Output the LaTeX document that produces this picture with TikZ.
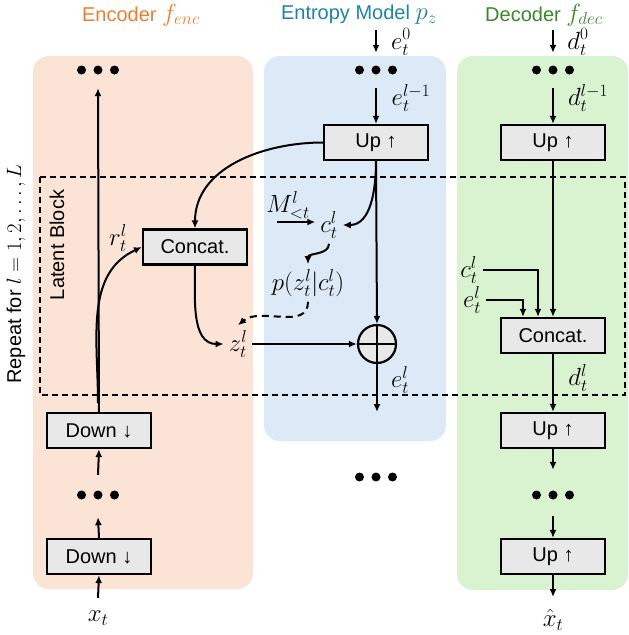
\documentclass[tikz,border=0pt]{standalone}
\usepackage{fontspec}
\setmainfont{Liberation Sans}
\usetikzlibrary{arrows.meta}

\definecolor{encfill}{RGB}{251,227,214}
\definecolor{entfill}{RGB}{220,233,246}
\definecolor{decfill}{RGB}{217,242,208}
\definecolor{enctext}{RGB}{237,125,49}
\definecolor{enttext}{RGB}{30,130,170}
\definecolor{dectext}{RGB}{60,135,40}
\definecolor{boxfill}{RGB}{232,232,232}

% larger maths inside sans text lines
\newcommand{\lgmath}[1]{{\fontsize{24}{26}\selectfont$#1$}}

\begin{document}
\begin{tikzpicture}[x=1pt,y=1pt,
  font=\fontsize{20}{24}\selectfont,
  blk/.style={draw=black, line width=2.2pt, fill=boxfill, minimum width=104pt,
    minimum height=35pt, inner sep=0pt},
  panel/.style={rounded corners=16pt},
  conn/.style={line width=2pt, -{Latex[length=8pt,width=7pt]}},
  mlab/.style={font=\fontsize{24}{28}\selectfont, inner sep=5pt},
  dots/.style={minimum width=42pt, minimum height=10pt, inner sep=0pt,
    path picture={\fill (path picture bounding box.center) circle (4.5pt)
      ++(-16.5pt,0) circle (4.5pt) ++(33pt,0) circle (4.5pt);}},
  plus/.style={circle, draw=black, line width=2.2pt, fill=boxfill, minimum size=38pt,
    inner sep=0pt,
    path picture={\draw[line width=2pt]
      (path picture bounding box.north) -- (path picture bounding box.south)
      (path picture bounding box.west) -- (path picture bounding box.east);}},
  latent/.style={line width=1.5pt, dash pattern=on 6pt off 4pt}]

\useasboundingbox (0,0) rectangle (629,-635);

% column backgrounds
\fill[encfill, panel] (33,-56) rectangle (253,-589);
\fill[entfill, panel] (264,-56) rectangle (446,-441);
\fill[decfill, panel] (457,-56) rectangle (628,-590);

% latent block frame
\draw[latent] (40,-177) rectangle (625,-395);

% titles
\node[enctext] (enct) at (141,-15) {Encoder \lgmath{f_{enc}}};
\node[enttext] (entt) at (359,-15) {Entropy Model \lgmath{p_z}};
\node[dectext] (dect) at (544,-15) {Decoder \lgmath{f_{dec}}};

% side labels
\node[rotate=90] (lb) at (57,-245) {Latent Block};
\node[rotate=90] (rep) at (16,-274) {Repeat for $l = 1,2, \ldots, L$};

% ---------------- encoder ----------------
\node[dots] (etop) at (98,-70) {};
\node[blk] (down1) at (99,-430.5) {Down ↓};
\node[dots] (emid) at (98,-495) {};
\node[blk] (down2) at (99,-556.5) {Down ↓};
\node[mlab] (xt) at (98,-618) {$x_t$};
\coordinate (xtop) at (98,-598);
\coordinate (rsplit) at (98,-403);

\draw[conn] (xtop) -- (down2.south);
\draw[conn] (down2.north) -- ([yshift=-17pt]emid.south);
\draw[conn] ([yshift=15pt]emid.north) -- (down1.south);
\draw[conn] (down1.north) -- ([yshift=-13pt]etop.south);

\node[blk] (cat1) at (195,-247) {Concat.};
\node[mlab] (rlab) at (118,-238) {$r_t^l$};
\draw[conn] (rsplit) to[out=90, in=205] (cat1.west);

% ---------------- entropy model ----------------
\coordinate (e0start) at (376,-30);
\node[mlab] (e0lab) at (401,-42) {$e_t^0$};
\node[dots] (mtop) at (376,-70) {};
\node[mlab] (em1) at (411,-98) {$e_t^{l-1}$};
\node[blk] (up1) at (376,-142.5) {Up ↑};
\node[plus] (sum) at (377,-344) {};
\coordinate (eout) at (377,-412);
\node[mlab] (elab) at (400,-380) {$e_t^l$};
\node[dots] (mbot) at (376,-477) {};

\draw[conn] (e0start) -- ([yshift=12pt]mtop.north);
\draw[conn] ([yshift=-13pt]mtop.south) -- (up1.north);
\draw[conn] (up1.south) -- (sum.north);
\draw[conn] (sum.south) -- (eout);

\node[mlab] (mlabel) at (288,-205) {$M_{<t}^l$};
\coordinate (mstart) at (277,-222);
\node[mlab] (clab) at (329,-225) {$c_t^l$};
\node[mlab] (plab) at (308,-283) {$p(z_t^l|c_t^l)$};
\node[mlab] (zlab) at (238,-344) {$z_t^l$};

\draw[conn] (mstart) -- (mstart -| clab.west);
\draw[conn] (up1.west) to[out=180, in=90] (cat1.north);
\draw[conn] (up1.south) to[out=-90, in=0] (clab.east);
\draw[conn] (clab.south) to[out=-90, in=90] (plab.north);
\draw[conn, dash pattern=on 7pt off 5pt] (plab.south) to[out=-90, in=40] (zlab.north);
\draw[conn] (cat1.south) to[out=-90, in=180] (zlab.west);
\draw[conn] (zlab.east) -- (sum.west);

% ---------------- decoder ----------------
\coordinate (d0start) at (553,-30);
\node[mlab] (d0lab) at (578,-42) {$d_t^0$};
\node[dots] (dtop) at (553,-70) {};
\node[mlab] (dm1) at (588,-98) {$d_t^{l-1}$};
\node[blk] (up2) at (553,-142.5) {Up ↑};
\node[blk] (cat2) at (553,-335.5) {Concat.};
\node[mlab] (c2lab) at (469,-270) {$c_t^l$};
\node[mlab] (e2lab) at (472,-300) {$e_t^l$};
\node[mlab] (dlab) at (578,-378) {$d_t^l$};
\node[blk] (up3) at (553,-430.5) {Up ↑};
\node[dots] (dmid) at (553,-495) {};
\node[blk] (up4) at (553,-556.5) {Up ↑};
\coordinate (xhattop) at (553,-597);
\node[mlab] (xhat) at (553,-620) {$\hat{x}_t$};

\draw[conn] (d0start) -- ([yshift=12pt]dtop.north);
\draw[conn] ([yshift=-13pt]dtop.south) -- (up2.north);
\draw[conn] (up2.south) -- (cat2.north);
\draw[conn] (c2lab.east) -| ([xshift=-15pt]cat2.north);
\draw[conn] (e2lab.east) -| ([xshift=-30pt]cat2.north);
\draw[conn] (cat2.south) -- (up3.north);
\draw[conn] (up3.south) -- ([yshift=20pt]dmid.north);
\draw[conn] ([yshift=-16pt]dmid.south) -- (up4.north);
\draw[conn] (up4.south) -- (xhattop);

\end{tikzpicture}
\end{document}
